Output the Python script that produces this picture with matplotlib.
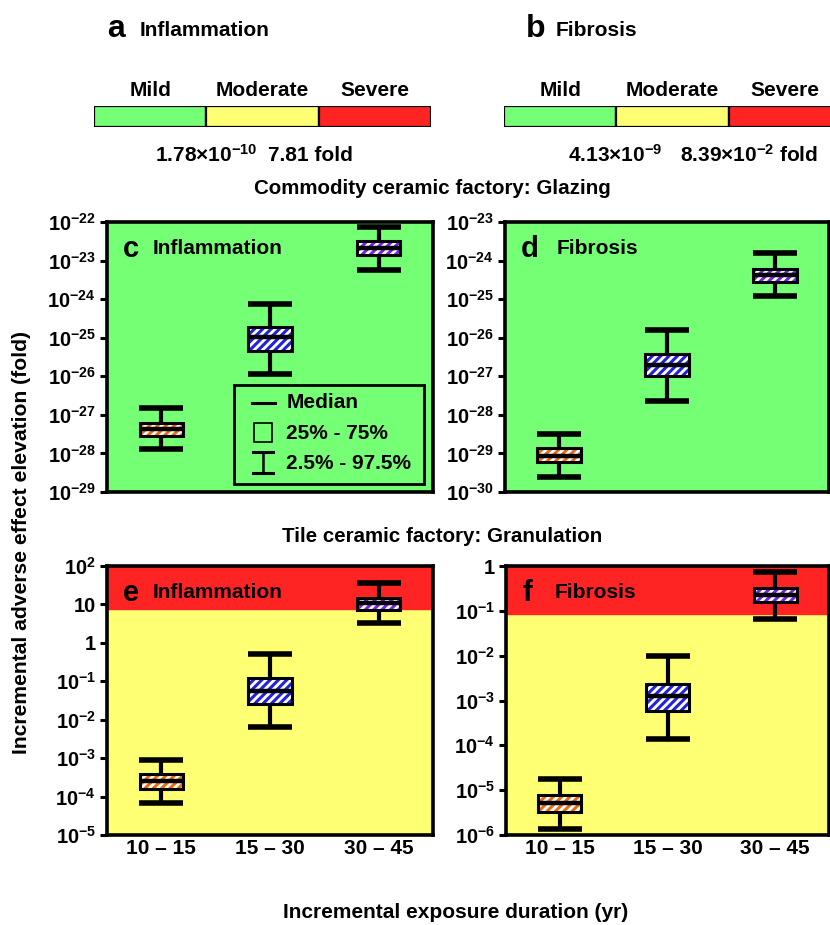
import matplotlib
matplotlib.use("Agg")
import matplotlib.pyplot as plt
from matplotlib.patches import Rectangle
from matplotlib.lines import Line2D
import numpy as np

plt.rcParams['font.family'] = ['Liberation Sans', 'DejaVu Sans']
plt.rcParams['font.weight'] = 'bold'
plt.rcParams['mathtext.fontset'] = 'custom'
plt.rcParams['mathtext.rm'] = 'Liberation Sans:bold'
plt.rcParams['mathtext.bf'] = 'Liberation Sans:bold'
plt.rcParams['mathtext.default'] = 'bf'
plt.rcParams['hatch.linewidth'] = 2.2

GREEN = '#74ff74'
YELLOW = '#ffff74'
RED = '#ff2424'

durations = ['10 – 15', '15 – 30', '30 – 45']
hatch_colors = ['#f06a10', '#2222dd', '#7a22ee']
severity = ['Mild', 'Moderate', 'Severe']

# severity thresholds (fold)
infl_thresholds = [1.78e-10, 7.81]
fib_thresholds = [4.13e-9, 8.39e-2]

# quantiles per duration: 2.5%, 25%, median, 75%, 97.5% (log10 of fold)
glaze_infl_lo = [-27.88, -25.95, -23.24]
glaze_infl_q1 = [-27.54, -25.34, -22.85]
glaze_infl_med = [-27.36, -24.97, -22.68]
glaze_infl_q3 = [-27.20, -24.71, -22.49]
glaze_infl_hi = [-26.82, -24.12, -22.12]

glaze_fib_lo = [-29.60, -27.64, -24.92]
glaze_fib_q1 = [-29.23, -27.00, -24.55]
glaze_fib_med = [-29.06, -26.72, -24.37]
glaze_fib_q3 = [-28.87, -26.41, -24.21]
glaze_fib_hi = [-28.50, -25.80, -23.81]

gran_infl_lo = [-4.18, -2.20, 0.52]
gran_infl_q1 = [-3.79, -1.58, 0.85]
gran_infl_med = [-3.60, -1.25, 1.03]
gran_infl_q3 = [-3.42, -0.92, 1.18]
gran_infl_hi = [-3.05, -0.30, 1.55]

gran_fib_lo = [-5.86, -3.85, -1.18]
gran_fib_q1 = [-5.48, -3.24, -0.81]
gran_fib_med = [-5.28, -2.90, -0.65]
gran_fib_q3 = [-5.11, -2.63, -0.50]
gran_fib_hi = [-4.74, -2.00, -0.14]


def decade_label(p):
    if p == 0:
        return '1'
    if p == 1:
        return '10'
    return r'$10^{%d}$' % p


def draw_boxes(ax, lo, q1, med, q3, hi):
    x = np.arange(len(durations))
    lo, q1, med, q3, hi = [10.0 ** np.array(v) for v in (lo, q1, med, q3, hi)]
    w = 0.4
    ax.errorbar(x, med, yerr=[med - lo, hi - med], fmt='none', ecolor='black',
                elinewidth=3, capsize=16, capthick=4, zorder=3)
    for i in x:
        ax.bar(i, q3[i] - q1[i], bottom=q1[i], width=w, color='white',
               edgecolor=hatch_colors[i], hatch='////', linewidth=0, zorder=4)
    ax.bar(x, q3 - q1, bottom=q1, width=w, fill=False, edgecolor='black',
           linewidth=2.2, zorder=5)
    ax.hlines(med, x - w / 2, x + w / 2, colors='black', linewidth=3.2, zorder=6)


def style_axes(ax, top, bottom, show_x):
    ax.set_yscale('log')
    ax.set_ylim(10.0 ** bottom, 10.0 ** top)
    ax.set_xlim(-0.5, 2.5)
    pw = list(range(bottom, top + 1))
    ax.set_yticks([10.0 ** p for p in pw])
    ax.set_yticklabels([decade_label(p) for p in pw])
    ax.yaxis.set_minor_locator(matplotlib.ticker.NullLocator())
    ax.tick_params(axis='y', direction='out', length=5, width=2.2,
                   labelsize=14.5, pad=3)
    ax.set_xticks(range(len(durations)))
    if show_x:
        ax.set_xticklabels(durations, fontsize=15, fontweight='bold')
    else:
        ax.set_xticklabels([])
    ax.tick_params(axis='x', length=0, pad=3)
    for s in ax.spines.values():
        s.set_linewidth(2.6)


def panel_label(ax, letter, name, x0, x1):
    ax.text(x0, 0.9, letter, transform=ax.transAxes, fontsize=21,
            fontweight='bold', va='center', zorder=7)
    ax.text(x1, 0.9, name, transform=ax.transAxes, fontsize=15,
            fontweight='bold', va='center', zorder=7)


fig = plt.figure(figsize=(8.3, 9.25), dpi=100)
W, H = 830.0, 925.0


def axes_px(x0, y0, x1, y1):
    return fig.add_axes([x0 / W, 1 - y1 / H, (x1 - x0) / W, (y1 - y0) / H])


# severity scale bars
for (bx, letter, name, thr, lx, ax0) in [(94, 'a', 'Inflammation', infl_thresholds, 140, 107),
                                         (504, 'b', 'Fibrosis', fib_thresholds, 556, 526)]:
    bax = axes_px(bx, 106, bx + 337, 127)
    bax.barh(0, [1, 1, 1], left=[0, 1, 2], height=1, color=[GREEN, YELLOW, RED],
             edgecolor='black', linewidth=1.6)
    bax.set_xlim(0, 3)
    bax.set_ylim(-0.5, 0.5)
    bax.axis('off')
    for i, s in enumerate(severity):
        bax.text(i + 0.5, 1.22, s, ha='center', va='center', fontsize=15,
                 fontweight='bold', clip_on=False)
    fig.text(ax0 / W, 1 - 29 / H, letter, fontsize=23, fontweight='bold',
             va='center')
    fig.text(lx / W, 1 - 30 / H, name, fontsize=15, fontweight='bold', va='center')

fig.text(155 / W, 1 - 155 / H, r'$1.78{\times}10^{-10}$', fontsize=15, va='center')
fig.text(268 / W, 1 - 155 / H, '7.81 fold', fontsize=15, va='center')
fig.text(568 / W, 1 - 155 / H, r'$4.13{\times}10^{-9}$', fontsize=15, va='center')
fig.text(680 / W, 1 - 155 / H, r'$8.39{\times}10^{-2}$ fold', fontsize=15, va='center')

fig.text(432 / W, 1 - 188 / H, 'Commodity ceramic factory: Glazing', fontsize=14.8,
         ha='center', va='center')
fig.text(442 / W, 1 - 537 / H, 'Tile ceramic factory: Granulation', fontsize=14.8,
         ha='center', va='center')

# c: glazing, inflammation
ax_c = axes_px(107, 222, 433, 492)
ax_c.set_facecolor(GREEN)
draw_boxes(ax_c, glaze_infl_lo, glaze_infl_q1, glaze_infl_med, glaze_infl_q3, glaze_infl_hi)
style_axes(ax_c, -22, -29, False)
panel_label(ax_c, 'c', 'Inflammation', 0.05, 0.14)

# legend box
ax_c.add_patch(Rectangle((0.39, 0.03), 0.582, 0.366, transform=ax_c.transAxes,
                         facecolor=GREEN, edgecolor='black', linewidth=2, zorder=8))
lx = 0.479
ax_c.add_line(Line2D([lx - 0.035, lx + 0.035], [0.33, 0.33], transform=ax_c.transAxes,
                     color='black', linewidth=2.2, zorder=9))
ax_c.add_patch(Rectangle((lx - 0.027, 0.185), 0.054, 0.07, transform=ax_c.transAxes,
                         fill=False, edgecolor='black', linewidth=1.2, zorder=9))
ax_c.add_line(Line2D([lx, lx], [0.07, 0.15], transform=ax_c.transAxes,
                     color='black', linewidth=1.8, zorder=9))
for yy in (0.07, 0.15):
    ax_c.add_line(Line2D([lx - 0.03, lx + 0.03], [yy, yy], transform=ax_c.transAxes,
                         color='black', linewidth=2.2, zorder=9))
for yy, t in [(0.33, 'Median'), (0.215, '25% - 75%'), (0.105, '2.5% - 97.5%')]:
    ax_c.text(0.55, yy, t, transform=ax_c.transAxes, fontsize=15, fontweight='bold',
              va='center', zorder=9)

# d: glazing, fibrosis
ax_d = axes_px(505, 222, 829, 492)
ax_d.set_facecolor(GREEN)
draw_boxes(ax_d, glaze_fib_lo, glaze_fib_q1, glaze_fib_med, glaze_fib_q3, glaze_fib_hi)
style_axes(ax_d, -23, -30, False)
panel_label(ax_d, 'd', 'Fibrosis', 0.05, 0.16)

# e: granulation, inflammation
ax_e = axes_px(107, 566, 433, 835)
ax_e.set_facecolor(YELLOW)
ax_e.axhspan(infl_thresholds[1], 1e2, color=RED, zorder=0)
draw_boxes(ax_e, gran_infl_lo, gran_infl_q1, gran_infl_med, gran_infl_q3, gran_infl_hi)
style_axes(ax_e, 2, -5, True)
panel_label(ax_e, 'e', 'Inflammation', 0.05, 0.14)

# f: granulation, fibrosis
ax_f = axes_px(506, 566, 829, 835)
ax_f.set_facecolor(YELLOW)
ax_f.axhspan(fib_thresholds[1], 1, color=RED, zorder=0)
draw_boxes(ax_f, gran_fib_lo, gran_fib_q1, gran_fib_med, gran_fib_q3, gran_fib_hi)
style_axes(ax_f, 0, -6, True)
panel_label(ax_f, 'f', 'Fibrosis', 0.05, 0.15)

fig.text(22 / W, 1 - 543 / H, 'Incremental adverse effect elevation (fold)',
         rotation=90, fontsize=15.2, ha='center', va='center')
fig.text(456 / W, 1 - 912 / H, 'Incremental exposure duration (yr)', fontsize=15,
         ha='center', va='center')

fig.savefig('out.png', dpi=100)
